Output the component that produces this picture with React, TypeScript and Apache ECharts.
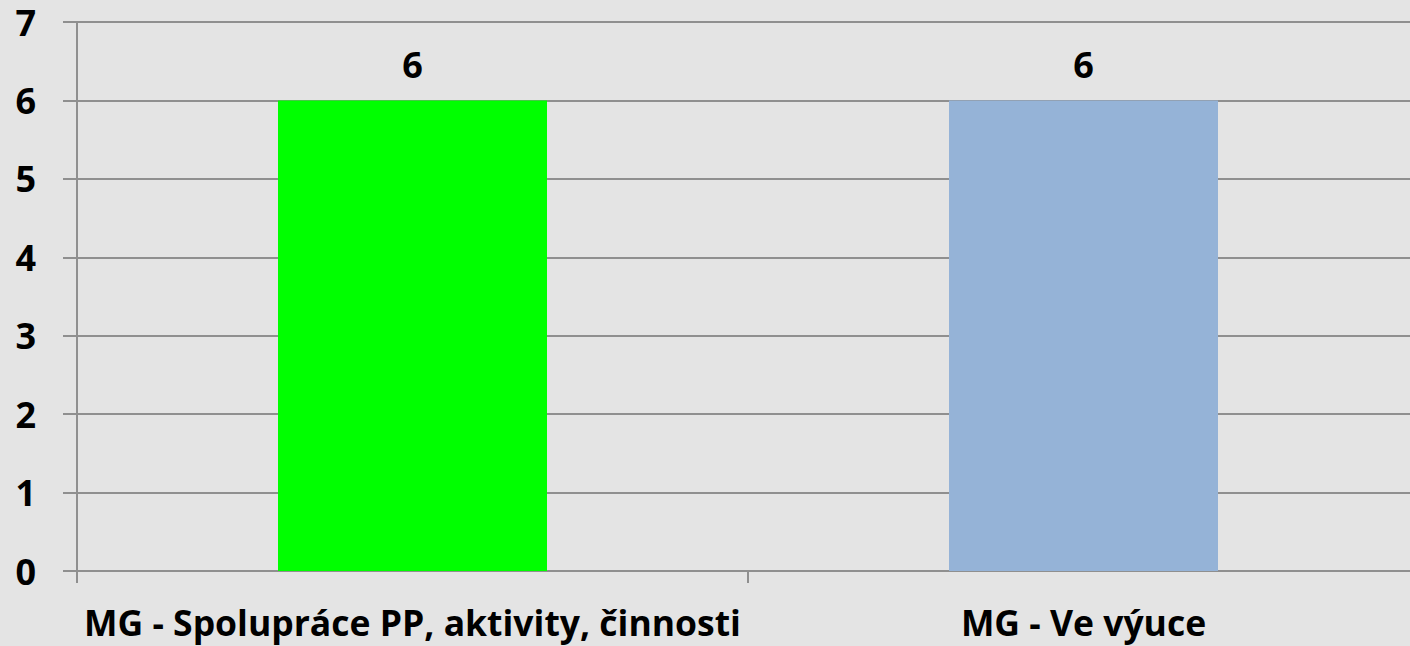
import React, { useEffect, useRef } from "react";
import * as echarts from "echarts";

const categories = ["MG - Spolupráce PP, aktivity, činnosti", "MG - Ve výuce"];
const values = [6, 6];
const barColors = ["#00ff00", "#95b3d7"];
const yTicks = [0, 1, 2, 3, 4, 5, 6, 7];

export default function App() {
  const ref = useRef<HTMLDivElement>(null);
  useEffect(() => {
    if (!ref.current) return;
    const chart = echarts.init(ref.current, null, { renderer: "svg" });
    chart.setOption({
      animation: false,
      backgroundColor: "#e4e4e4",
      grid: { left: 77, top: 22, bottom: 75, right: 1 },
      xAxis: {
        type: "category",
        data: categories,
        axisLine: { lineStyle: { color: "#8f8f8f", width: 2 } },
        axisTick: { show: true, length: 12, lineStyle: { color: "#8f8f8f", width: 2 } },
        axisLabel: {
          color: "#000",
          fontFamily: "Open Sans",
          fontWeight: "bold",
          fontSize: 35.5,
          lineHeight: 30,
          margin: 36,
          interval: 0,
        },
      },
      yAxis: {
        type: "value",
        min: yTicks[0],
        max: yTicks[yTicks.length - 1],
        interval: 1,
        axisLine: { show: true, lineStyle: { color: "#8f8f8f", width: 2 } },
        axisTick: { show: true, length: 14, lineStyle: { color: "#8f8f8f", width: 2 } },
        splitLine: { lineStyle: { color: "#8f8f8f", width: 2 } },
        axisLabel: {
          color: "#000",
          fontFamily: "Open Sans",
          fontWeight: "bold",
          fontSize: 36,
          lineHeight: 28,
          margin: 41,
        },
      },
      series: [
        {
          type: "bar",
          barWidth: 269,
          data: values.map((v, i) => ({ value: v, itemStyle: { color: barColors[i] } })),
          label: {
            show: true,
            position: "top",
            distance: 18,
            color: "#000",
            fontFamily: "Open Sans",
            fontWeight: "bold",
            fontSize: 36,
          },
        },
      ],
    });
    return () => chart.dispose();
  }, []);
  return (
    <div style={{ position: "fixed", left: 0, top: 0, width: 1410, height: 646, overflow: "hidden" }}>
      <div ref={ref} style={{ width: 1420, height: 646 }} />
    </div>
  );
}
